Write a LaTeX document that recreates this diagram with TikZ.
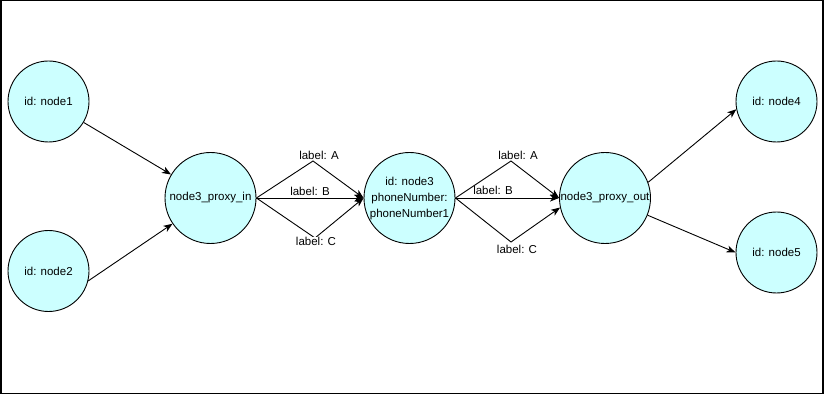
\documentclass[tikz,border=0pt]{standalone}
\usepackage{fontspec}
\setmainfont{Liberation Sans}
\usetikzlibrary{arrows.meta}
\definecolor{cyanfill}{HTML}{CCFFFF}
\begin{document}
\begin{tikzpicture}[x=1pt,y=-1pt,
  txt/.style={font=\fontsize{11.5}{16}\selectfont},
  outer/.style={circle,draw=black,fill=cyanfill,line width=0.9pt,minimum size=81pt,inner sep=0pt,txt},
  mid/.style={outer,minimum size=91pt},
  edge/.style={draw=black,line width=0.9pt,-{Stealth[length=9pt,width=7pt,inset=2.5pt]}},
  lab/.style={txt,inner sep=0pt}]
\useasboundingbox (0,0) rectangle (824,395);
\draw[line width=1.5pt] (0.75,0.75) rectangle (823,393.5);

\node[outer] (n1) at (48.5,101.5) {id: node1};
\node[outer] (n2) at (48.5,271) {id: node2};
\node[mid] (pin) at (210.5,198) {\makebox[0pt]{node3\_proxy\_in}};
\node[mid] (n3) at (409.5,198) {\makebox[0pt]{\begin{tabular}{@{}c@{}}id: node3\\phoneNumber:\\phoneNumber1\end{tabular}}};
\node[mid] (po) at (605,198) {\makebox[0pt]{node3\_proxy\_out}};
\node[outer] (n4) at (776.5,101.5) {id: node4};
\node[outer] (n5) at (776.5,252.5) {id: node5};

\coordinate (a1) at (313,161);
\coordinate (c1) at (315,238);
\coordinate (a2) at (511,161);
\coordinate (c2) at (511,242);

\draw[edge] (n1) -- (pin);
\draw[edge] (n2.-14) -- (pin);
\draw[edge] (pin.east) -- (a1) -- (n3.west);
\draw[edge] (pin.east) -- (n3.west);
\draw[edge] (pin.east) -- (c1) -- (n3.west);
\draw[edge] (n3.east) -- (a2) -- (po.west);
\draw[edge] (n3.east) -- (po.west);
\draw[edge] (n3.east) -- (c2) -- (po.192);
\draw[edge] (po.20) -- (n4.191);
\draw[edge] (po.-22) -- (n5.west);

\node[lab,fill=white] (la1) at (319,155) {label: A};
\node[lab] (lb1) at (310,191) {label: B};
\node[lab,fill=white] (lc1) at (316,241) {label: C};
\node[lab,fill=white] (la2) at (518,155) {label: A};
\node[lab] (lb2) at (493,190) {label: B};
\node[lab,fill=white] (lc2) at (517,249) {label: C};
\end{tikzpicture}
\end{document}
